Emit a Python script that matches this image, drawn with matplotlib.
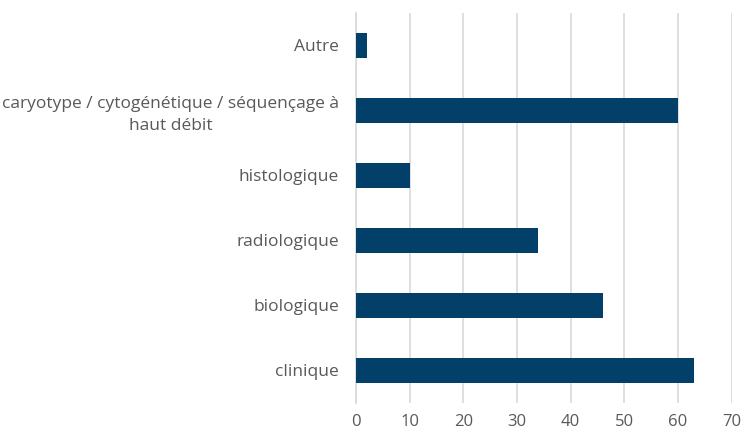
import matplotlib.pyplot as plt

categories = ["clinique", "biologique", "radiologique", "histologique",
              "caryotype / cytogénétique / séquençage à\nhaut débit", "Autre"]
values = [63, 46, 34, 10, 60, 2]
xticks = [0, 10, 20, 30, 40, 50, 60, 70]

plt.rcParams['font.family'] = ['Open Sans', 'DejaVu Sans']

fig = plt.figure(figsize=(7.46, 4.34), dpi=100)
ax = fig.add_axes([0.477, 0.072, 0.504, 0.898])

ax.barh(range(len(categories)), values, height=0.38, color='#023F69', zorder=3)

ax.set_xlim(0, 70)
ax.set_ylim(-0.5, len(categories) - 0.5)
ax.set_xticks(xticks)
ax.set_yticks(range(len(categories)))
ax.set_yticklabels(categories, ha='right', multialignment='center', linespacing=1.45)
ax.tick_params(axis='y', pad=12, length=0, labelsize=12.5, labelcolor='#595959')
ax.tick_params(axis='x', length=0, labelsize=12, labelcolor='#595959', pad=8)

ax.grid(axis='x', color='#D9D9D9', linewidth=1.2, zorder=0)
for s in ['top', 'right', 'bottom']:
    ax.spines[s].set_visible(False)
ax.spines['left'].set_color('#D9D9D9')
ax.spines['left'].set_linewidth(1.2)

fig.savefig('out.png', dpi=100)
